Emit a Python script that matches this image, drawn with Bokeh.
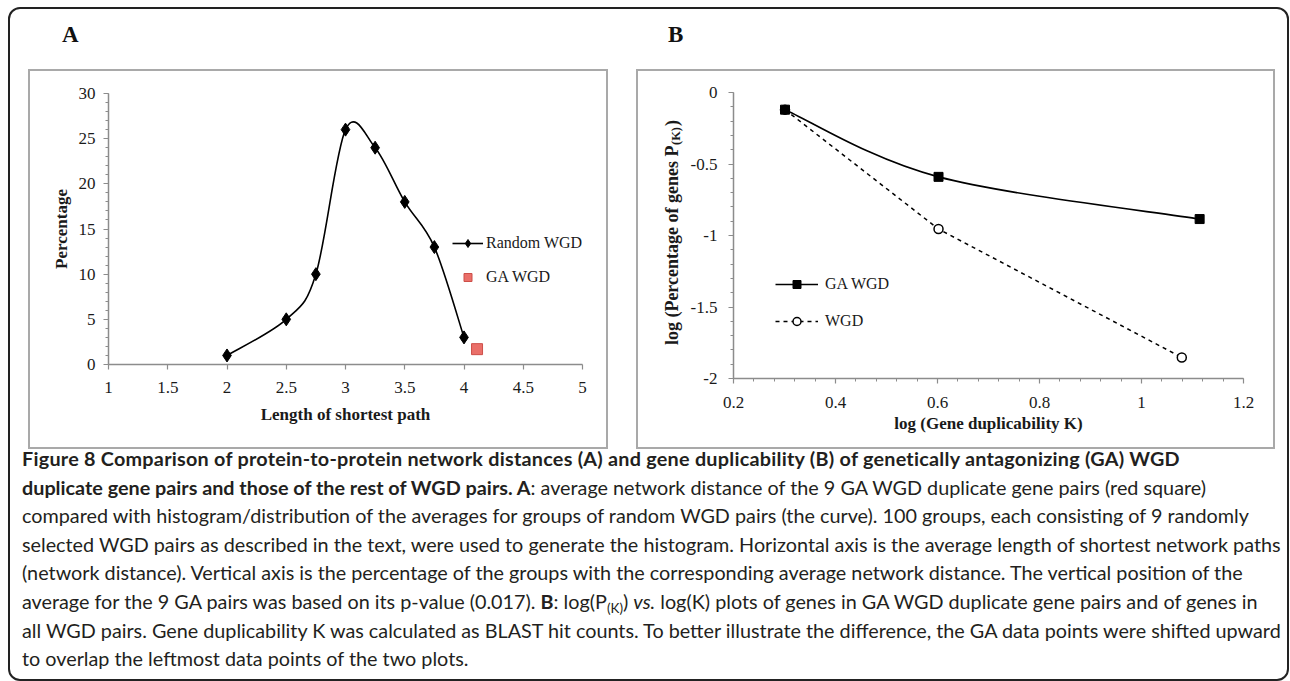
import numpy as np
from bokeh.plotting import figure
from bokeh.models import (Div, Spacer, Legend, LegendItem, Label, FixedTicker,
                          CustomJSTickFormatter)
from bokeh.layouts import column, row
from bokeh.embed import file_html
from bokeh.resources import INLINE

# ---------------- data ----------------
# Panel A: average shortest path length vs percentage of groups
a_len = [2, 2.5, 2.75, 3, 3.25, 3.5, 3.75, 4]
a_pct = [1, 5, 10, 26, 24, 18, 13, 3]
a_ga_len = [4.11]
a_ga_pct = [1.7]
a_xticks = [1, 1.5, 2, 2.5, 3, 3.5, 4, 4.5, 5]
a_yticks = [0, 5, 10, 15, 20, 25, 30]

# Panel B: log(K) vs log(P(K))
b_ga_x = [0.301, 0.602, 1.114]
b_ga_y = [-0.12, -0.59, -0.885]
b_wgd_x = [0.301, 0.602, 1.079]
b_wgd_y = [-0.12, -0.955, -1.853]
b_xticks = [0.2, 0.4, 0.6, 0.8, 1, 1.2]
b_yticks = [-2, -1.5, -1, -0.5, 0]

cap_title = ("Figure 8 Comparison of protein-to-protein network distances (A) and gene "
             "duplicability (B) of genetically antagonizing (GA) WGD")
cap_lines = [
    "<b>duplicate gene pairs and those of the rest of WGD pairs. A</b>: average network distance of the 9 GA WGD duplicate gene pairs (red square)",
    "compared with histogram/distribution of the averages for groups of random WGD pairs (the curve). 100 groups, each consisting of 9 randomly",
    "selected WGD pairs as described in the text, were used to generate the histogram. Horizontal axis is the average length of shortest network paths",
    "(network distance). Vertical axis is the percentage of the groups with the corresponding average network distance. The vertical position of the",
    "average for the 9 GA pairs was based on its p-value (0.017). <b>B</b>: log(P<sub style='font-size:68%;line-height:0;vertical-align:-0.28em'>(K)</sub>) <i>vs.</i> log(K) plots of genes in GA WGD duplicate gene pairs and of genes in",
    "all WGD pairs. Gene duplicability K was calculated as BLAST hit counts. To better illustrate the difference, the GA data points were shifted upward",
    "to overlap the leftmost data points of the two plots.",
]

SERIF = "Liberation Serif"
AXC = "#8c8c8c"
TXT = "#1a1a1a"
BOX = "2px solid #a9a9a9"


def smooth_segments(xs, ys, t=1.0 / 6.0):
    """Bezier control points of a smoothed (Catmull-Rom like) line through the points."""
    xs = np.asarray(xs, float)
    ys = np.asarray(ys, float)
    n = len(xs)
    px = np.concatenate([[xs[0]], xs, [xs[-1]]])
    py = np.concatenate([[ys[0]], ys, [ys[-1]]])
    return dict(
        x0=xs[:-1], y0=ys[:-1], x1=xs[1:], y1=ys[1:],
        cx0=xs[:-1] + (px[2:n + 1] - px[0:n - 1]) * t,
        cy0=ys[:-1] + (py[2:n + 1] - py[0:n - 1]) * t,
        cx1=xs[1:] - (px[3:n + 2] - px[1:n]) * t,
        cy1=ys[1:] - (py[3:n + 2] - py[1:n]) * t,
    )


def style_axis(ax, ticks, minor, label):
    ax.ticker = FixedTicker(ticks=list(ticks), minor_ticks=list(minor))
    ax.formatter = CustomJSTickFormatter(code="return String(tick)")
    ax.axis_line_color = AXC
    ax.axis_line_width = 1.5
    ax.major_tick_line_color = AXC
    ax.minor_tick_line_color = AXC
    ax.major_tick_line_width = 1.2
    ax.minor_tick_line_width = 1
    ax.major_tick_out = 5
    ax.major_tick_in = 0
    ax.minor_tick_out = 3
    ax.minor_tick_in = 0
    ax.major_label_text_font = SERIF
    ax.major_label_text_font_size = "17px"
    ax.major_label_text_color = TXT
    ax.axis_label = label
    ax.axis_label_text_font = SERIF
    ax.axis_label_text_font_style = "bold"
    ax.axis_label_text_font_size = "17px"
    ax.axis_label_text_color = TXT


def make_fig(w, h, xr, yr, ml, mr, mt, mb, **kw):
    p = figure(width=w, height=h, x_range=xr, y_range=yr, output_backend="svg",
               toolbar_location=None, min_border_left=ml, min_border_right=mr,
               min_border_top=mt, min_border_bottom=mb, outline_line_color=None,
               background_fill_color="white", border_fill_color="white",
               margin=0, **kw)
    p.xgrid.visible = False
    p.ygrid.visible = False
    return p


# ---------------- panel A ----------------
pA = make_fig(576, 376, (1, 5), (0, 30), 78, 24, 22, 83)
style_axis(pA.xaxis[0], a_xticks, [], "Length of shortest path")
style_axis(pA.yaxis[0], a_yticks, np.arange(a_yticks[0], a_yticks[-1] + 1, 1), "Percentage")
pA.xaxis[0].major_label_standoff = 12
pA.xaxis[0].axis_label_standoff = 9
pA.yaxis[0].major_label_standoff = 8
pA.yaxis[0].axis_label_standoff = 5

segA = smooth_segments(a_len, a_pct)
rA_curve = pA.bezier(line_color="black", line_width=1.6, **segA)
rA_pts = pA.scatter(a_len, a_pct, marker="diamond", size=13, fill_color="black",
                    line_color="black")
rA_ga = pA.scatter(a_ga_len, a_ga_pct, marker="square", size=11, fill_color="#ea6f69",
                   line_color="#cd4f49", line_width=1)

legA = Legend(items=[LegendItem(label="Random WGD", renderers=[rA_curve, rA_pts]),
                     LegendItem(label="GA WGD", renderers=[rA_ga])],
              location=(344, 77), glyph_width=31, glyph_height=20, label_height=20,
              label_standoff=3, spacing=14, padding=0, margin=0,
              border_line_color=None, background_fill_alpha=0,
              label_text_font=SERIF, label_text_font_size="16px",
              label_text_color=TXT)
pA.add_layout(legA)

# ---------------- panel B ----------------
B_TOP, B_BOTTOM = 21, 69
TW = 48
pB = make_fig(635 - TW, 376, (0.2, 1.2), (-2, 0), 95 - TW, 30, B_TOP, B_BOTTOM)
style_axis(pB.xaxis[0], b_xticks, np.round(np.arange(0.2, 1.2001, 0.04), 2),
           "log (Gene duplicability K)")
style_axis(pB.yaxis[0], b_yticks, np.round(np.arange(-2, 0.0001, 0.1), 2), "")
pB.xaxis[0].major_label_standoff = 13
pB.xaxis[0].axis_label_standoff = 3
pB.yaxis[0].major_label_standoff = 11

rB_wgd_line = pB.line(b_wgd_x, b_wgd_y, line_color="black", line_width=1.5,
                      line_dash="4 4")
rB_wgd_pts = pB.scatter(b_wgd_x, b_wgd_y, marker="circle", size=9, fill_color="white",
                        line_color="black", line_width=1.5)
segB = smooth_segments(b_ga_x, b_ga_y)
rB_ga_curve = pB.bezier(line_color="black", line_width=1.6, **segB)
rB_ga_pts = pB.scatter(b_ga_x, b_ga_y, marker="square", size=9, fill_color="black",
                       line_color="black")

legB = Legend(items=[LegendItem(label="GA WGD", renderers=[rB_ga_curve, rB_ga_pts]),
                     LegendItem(label="WGD", renderers=[rB_wgd_line, rB_wgd_pts])],
              location=(42, 47), glyph_width=43, glyph_height=20, label_height=20,
              label_standoff=7, spacing=17, padding=0, margin=0,
              border_line_color=None, background_fill_alpha=0,
              label_text_font=SERIF, label_text_font_size="16px",
              label_text_color=TXT)
pB.add_layout(legB)

# vertical axis title of panel B (with subscript), drawn in its own narrow canvas
TB = {" ": 250, "(": 333, ")": 333, "P": 611, "K": 778, "a": 500, "c": 444, "e": 444,
      "g": 500, "l": 278, "n": 556, "o": 500, "r": 444, "s": 389, "t": 333, "f": 333}


def tw(s, size):
    return sum(TB.get(ch, 500) for ch in s) / 1000.0 * size * 1.05


pT = make_fig(TW, 376, (0, 1), (0, 1), 0, 0, B_TOP, B_BOTTOM,
              x_axis_location=None, y_axis_location=None)
ytitle_main, ytitle_sub, ytitle_end = "log (Percentage of genes P", "(K)", " )"
fs_main, fs_sub = 18, 12.5
w_main = tw(ytitle_main, fs_main)
w_sub = tw(ytitle_sub, fs_sub)
w_end = tw(ytitle_end, fs_main)
frame_h = 376 - B_TOP - B_BOTTOM
y_join = frame_h / 2 + (w_main - w_sub - w_end) / 2
xt = 33
common = dict(x_units="screen", y_units="screen", angle=np.pi / 2,
              text_baseline="middle", text_font=SERIF, text_font_style="bold",
              text_color=TXT)
pT.add_layout(Label(x=xt, y=y_join, text=ytitle_main, text_align="right",
                    text_font_size=f"{fs_main}px", **common))
pT.add_layout(Label(x=xt + 4, y=y_join + 0.5, text=ytitle_sub, text_align="left",
                    text_font_size=f"{fs_sub}px", **common))
pT.add_layout(Label(x=xt, y=y_join + w_sub + 0.5, text=ytitle_end, text_align="left",
                    text_font_size=f"{fs_main}px", **common))

# ---------------- page ----------------
header = Div(text=(
    "<div style=\"position:relative;width:1277px;height:60px;font-family:'Liberation Serif';"
    "font-weight:bold;font-size:23px;color:#111\">"
    "<span style='position:absolute;left:52px;top:10px'>A</span>"
    "<span style='position:absolute;left:658px;top:10px'>B</span></div>"),
    width=1277, height=60, margin=0)

caption_html = (
    "<div style=\"font-family:'Lato';font-size:19.8px;line-height:28.6px;color:#231f20;"
    "white-space:nowrap;padding-left:12px;margin-top:-5px\">"
    f"<b style='letter-spacing:0.25px'>{cap_title}</b><br>" + "<br>".join(cap_lines) + "</div>")
caption = Div(text=caption_html, width=1277, height=230, margin=0)

boxA = column(pA, margin=0, spacing=0, styles={"border": BOX})
boxB = row(pT, pB, margin=0, spacing=0, styles={"border": BOX})
plots = row(Spacer(width=18, height=380, margin=0), boxA,
            Spacer(width=28, height=380, margin=0), boxB, margin=0, spacing=0)
inner = column(header, plots, caption, margin=0, spacing=0,
               styles={"border": "2px solid #222", "border-radius": "12px"})
page = column(Spacer(height=7, margin=0), row(Spacer(width=8, margin=0), inner, margin=0),
              margin=0, spacing=0)

open("out.html", "w").write(file_html(page, INLINE))
